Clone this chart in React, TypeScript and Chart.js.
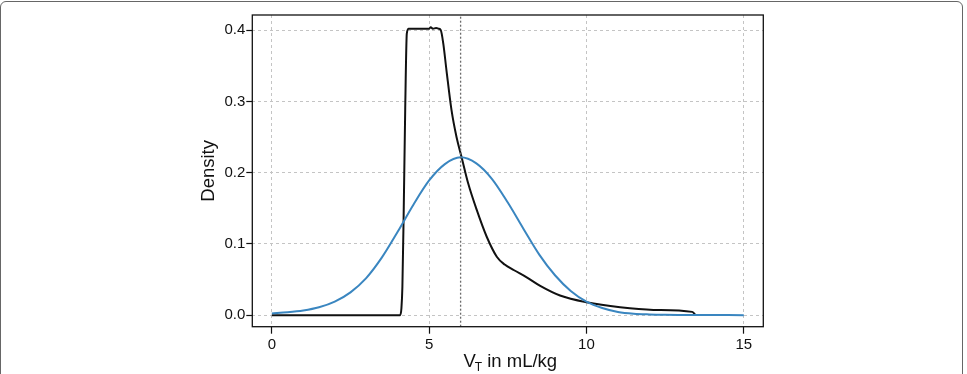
import React, { useEffect, useRef } from "react";
import { Chart, registerables } from "chart.js";

Chart.register(...registerables);

// ---- data ----
const blackX = [0, 4.08, 4.12, 4.15, 4.19, 4.24, 4.29, 4.35, 4.6, 5.0, 5.05, 5.12, 5.22, 5.3, 5.37, 5.45, 5.55, 5.71, 5.87, 6.03, 6.24, 6.51, 6.83, 7.15, 7.4, 7.7, 8.1, 8.53, 9.16, 10.0, 11.07, 12.13, 13.36, 13.45];
const blackY = [0, 0, 0.01, 0.04, 0.14, 0.29, 0.395, 0.402, 0.402, 0.402, 0.404, 0.402, 0.403, 0.402, 0.4, 0.381, 0.344, 0.288, 0.25, 0.222, 0.185, 0.148, 0.11, 0.082, 0.071, 0.063, 0.053, 0.041, 0.0275, 0.018, 0.011, 0.0074, 0.0046, 0.001];

const blueX = [0, 0.5, 1, 1.5, 2, 2.5, 3, 3.5, 4, 4.5, 5, 5.5, 6, 6.5, 7, 7.5, 8, 8.5, 9, 9.5, 10, 10.5, 11, 11.5, 12, 12.5, 13, 13.5, 14, 14.5, 15];
const blueY = [0.0025, 0.004, 0.0065, 0.011, 0.019, 0.032, 0.052, 0.081, 0.117, 0.155, 0.189, 0.212, 0.2215, 0.213, 0.191, 0.158, 0.121, 0.085, 0.056, 0.034, 0.019, 0.01, 0.0045, 0.002, 0.001, 0.0005, 0.0003, 0.0002, 0.0001, 0.00005, 0];

const refLineX = 6;
const xTicks = [0, 5, 10, 15];
const yTicks = [0, 0.1, 0.2, 0.3, 0.4];
const xRange = [-0.62, 15.62];
const yRange = [-0.0162, 0.4212];
const yTitle = "Density";
const xTitleMain = "V";
const xTitleSub = "T";
const xTitleRest = " in mL/kg";

const FONT = "'Liberation Sans', Arial, Helvetica, sans-serif";

const W = 967;
const H = 374;

export default function App() {
  const ref = useRef<HTMLCanvasElement | null>(null);

  useEffect(() => {
    const canvas = ref.current;
    if (!canvas) return;

    const titlePlugin = {
      id: "rTitles",
      afterDraw(chart: any) {
        const { ctx, chartArea } = chart;
        ctx.save();
        ctx.strokeStyle = "#111";
        ctx.lineWidth = 1.3;
        ctx.setLineDash([]);
        ctx.strokeRect(chartArea.left, chartArea.top, chartArea.right - chartArea.left, chartArea.bottom - chartArea.top);

        ctx.fillStyle = "#111";
        const big = `18.5px ${FONT}`;
        const small = `12px ${FONT}`;
        ctx.font = big;
        const w1 = ctx.measureText(xTitleMain).width;
        const w3 = ctx.measureText(xTitleRest).width;
        ctx.font = small;
        const w2 = ctx.measureText(xTitleSub).width;
        const total = w1 + w2 + w3;
        const cx = (chartArea.left + chartArea.right) / 2 + 3;
        let x = cx - total / 2;
        const base = 367;
        ctx.textBaseline = "alphabetic";
        ctx.textAlign = "left";
        ctx.font = big;
        ctx.fillText(xTitleMain, x, base);
        x += w1;
        ctx.font = small;
        ctx.fillText(xTitleSub, x - 1, base + 4);
        x += w2 - 1;
        ctx.font = big;
        ctx.fillText(xTitleRest, x, base);

        const cy = (chartArea.top + chartArea.bottom) / 2;
        ctx.translate(214, cy);
        ctx.rotate(-Math.PI / 2);
        ctx.textAlign = "center";
        ctx.font = `18.5px ${FONT}`;
        ctx.fillText(yTitle, 0, 0);
        ctx.restore();
      },
    };

    const chart = new Chart(canvas, {
      type: "line",
      data: {
        datasets: [
          {
            data: [{ x: refLineX, y: yRange[0] }, { x: refLineX, y: yRange[1] }],
            borderColor: "#6a6a6a",
            borderWidth: 1.3,
            borderDash: [2, 2],
            pointRadius: 0,
            tension: 0,
          },
          {
            data: blueX.map((x, i) => ({ x, y: blueY[i] })),
            borderColor: "#3a86c0",
            borderWidth: 2,
            pointRadius: 0,
            cubicInterpolationMode: "monotone",
          },
          {
            data: blackX.map((x, i) => ({ x, y: blackY[i] })),
            borderColor: "#111",
            borderWidth: 2,
            pointRadius: 0,
            cubicInterpolationMode: "monotone",
          },
        ],
      },
      options: {
        responsive: false,
        animation: false,
        devicePixelRatio: 1,
        layout: { padding: { top: 15, right: W - 763.3, left: 0, bottom: 0 } },
        plugins: { legend: { display: false }, tooltip: { enabled: false }, title: { display: false } },
        scales: {
          x: {
            type: "linear",
            min: xRange[0],
            max: xRange[1],
            afterBuildTicks: (s: any) => {
              s.ticks = xTicks.map((v) => ({ value: v }));
            },
            afterFit: (s: any) => {
              s.height = H - 326.7;
            },
            grid: {
              color: "#c4c4c4",
              lineWidth: 1,
              tickLength: 7,
              tickColor: "#111",
              tickWidth: 1.2,
              tickBorderDash: [],
            },
            border: { display: false, dash: [3, 3] },
            ticks: {
              font: { family: FONT, size: 15 },
              color: "#111",
              padding: 2,
              maxRotation: 0,
              autoSkip: false,
              callback: (v: any) => String(v),
            },
          },
          y: {
            type: "linear",
            min: yRange[0],
            max: yRange[1],
            afterBuildTicks: (s: any) => {
              s.ticks = yTicks.map((v) => ({ value: v }));
            },
            afterFit: (s: any) => {
              s.width = 252.3;
            },
            grid: {
              color: "#c4c4c4",
              lineWidth: 1,
              tickLength: 6,
              tickColor: "#111",
              tickWidth: 1.2,
              tickBorderDash: [],
            },
            border: { display: false, dash: [3, 3] },
            ticks: {
              font: { family: FONT, size: 15 },
              color: "#111",
              padding: 1,
              autoSkip: false,
              callback: (v: any) => Number(v).toFixed(1),
            },
          },
        },
      },
      plugins: [titlePlugin],
    } as any);

    return () => chart.destroy();
  }, []);

  return (
    <div style={{ position: "absolute", left: 0, top: 0, width: W, height: H, overflow: "hidden", background: "#fff" }}>
      <div
        style={{
          position: "absolute",
          left: 0,
          top: 1,
          width: 963,
          height: 420,
          boxSizing: "border-box",
          border: "1.5px solid #666",
          borderRadius: 6,
        }}
      />
      <canvas ref={ref} width={W} height={H} style={{ position: "absolute", left: 0, top: 0, width: W, height: H }} />
    </div>
  );
}
